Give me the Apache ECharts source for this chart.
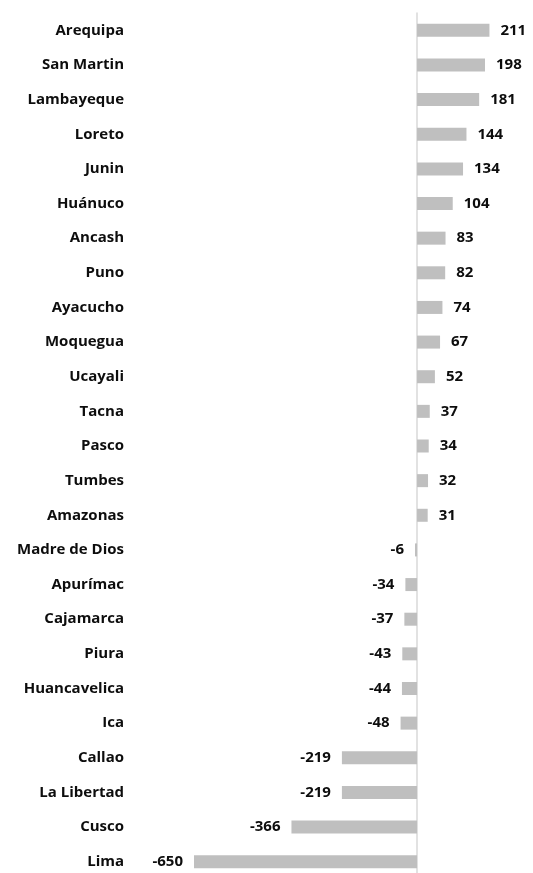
<!DOCTYPE html>
<html>
<head>
<meta charset="utf-8">
<script src="https://cdn.jsdelivr.net/npm/echarts@6/dist/echarts.min.js"></script>
<style>
  html, body { margin: 0; padding: 0; background: #fff; overflow: hidden; }
  #chart { width: 533px; height: 890px; }
</style>
</head>
<body>
<div id="chart"></div>
<script>
// regiones, de arriba hacia abajo
var regions = ['Arequipa', 'San Martin', 'Lambayeque', 'Loreto', 'Junin', 'Huánuco', 'Ancash', 'Puno',
  'Ayacucho', 'Moquegua', 'Ucayali', 'Tacna', 'Pasco', 'Tumbes', 'Amazonas', 'Madre de Dios',
  'Apurímac', 'Cajamarca', 'Piura', 'Huancavelica', 'Ica', 'Callao', 'La Libertad', 'Cusco', 'Lima'];
var values = [211, 198, 181, 144, 134, 104, 83, 82, 74, 67, 52, 37, 34, 32, 31, -6,
  -34, -37, -43, -44, -48, -219, -219, -366, -650];

// el contenedor es mas alto que la ventana para que la ultima fila quede igual que en el original
var chart = echarts.init(document.getElementById('chart'));

var option = {
  animation: false,
  grid: {
    left: 194,
    width: 326,
    top: 13,
    height: 866
  },
  xAxis: {
    type: 'value',
    min: -650,
    max: 300,
    show: false
  },
  yAxis: {
    type: 'category',
    inverse: true,
    data: regions,
    axisLine: { show: true, onZero: true, lineStyle: { color: '#d9d9d9', width: 1.5 } },
    axisTick: { show: false },
    axisLabel: {
      color: '#0d0d0d',
      fontFamily: 'Open Sans',
      fontWeight: 'bold',
      fontSize: 15,
      margin: 70
    }
  },
  series: [{
    type: 'bar',
    data: values.map(function (v) {
      return {
        value: v,
        label: { position: v < 0 ? 'left' : 'right' }
      };
    }),
    barWidth: 13,
    itemStyle: { color: '#bfbfbf' },
    label: {
      show: true,
      distance: 11,
      color: '#0d0d0d',
      fontFamily: 'Open Sans',
      fontWeight: 'bold',
      fontSize: 15
    }
  }]
};

chart.setOption(option);
window.addEventListener('resize', chart.resize);
</script>
</body>
</html>
